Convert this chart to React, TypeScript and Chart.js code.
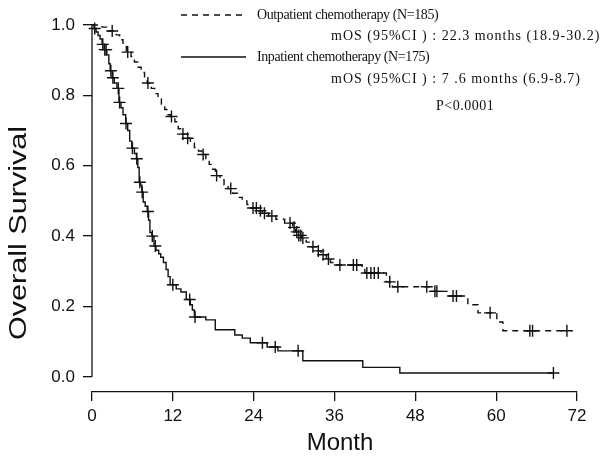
import React, { useEffect, useRef } from 'react';
import { Chart, registerables } from 'chart.js';

Chart.register(...registerables);

// Outpatient chemotherapy (dashed) – Kaplan–Meier step points
const outTimes = [0, 1.5, 2.2, 3.6, 4.1, 4.6, 5.1, 5.8, 6.3, 6.8, 7.3, 7.8, 8.2, 8.8, 9.3, 9.8, 10.3, 10.8, 11.3, 11.7, 12.3, 12.8, 13.3, 14.0, 14.6, 15.2, 15.8, 16.3, 16.9, 17.4, 17.9, 18.3, 19.0, 19.6, 20.2, 20.9, 21.6, 22.3, 23.0, 23.6, 24.8, 25.3, 26.2, 27.3, 28.6, 29.8, 30.2, 30.6, 31.1, 31.8, 32.5, 33.3, 34.0, 34.8, 35.4, 36.0, 40.1, 40.5, 43.7, 44.6, 50.2, 52.7, 55.8, 57.3, 60.1, 61.0, 70.5];
const outSurv = [1.0, 0.994, 0.983, 0.972, 0.958, 0.943, 0.923, 0.91, 0.895, 0.88, 0.865, 0.85, 0.835, 0.82, 0.805, 0.79, 0.775, 0.76, 0.745, 0.74, 0.725, 0.705, 0.69, 0.678, 0.665, 0.652, 0.642, 0.632, 0.618, 0.604, 0.59, 0.572, 0.56, 0.546, 0.535, 0.522, 0.51, 0.5, 0.49, 0.48, 0.472, 0.465, 0.457, 0.448, 0.437, 0.425, 0.412, 0.402, 0.395, 0.383, 0.37, 0.358, 0.347, 0.335, 0.325, 0.318, 0.305, 0.295, 0.27, 0.256, 0.243, 0.23, 0.205, 0.182, 0.156, 0.131, 0.131];
const outCensorTimes = [3.0, 5.3, 8.3, 11.8, 13.5, 14.2, 16.5, 18.5, 20.6, 23.9, 24.4, 25.0, 25.6, 26.7, 29.4, 30.0, 30.4, 30.7, 31.0, 31.3, 32.8, 33.6, 34.3, 35.1, 36.8, 38.8, 39.3, 40.8, 41.4, 41.9, 42.5, 44.2, 45.4, 49.7, 50.9, 51.2, 53.6, 54.1, 59.1, 65.0, 65.4, 70.5];
const outCensorSurv = [0.983, 0.923, 0.835, 0.74, 0.69, 0.678, 0.632, 0.572, 0.535, 0.48, 0.48, 0.472, 0.465, 0.457, 0.437, 0.425, 0.412, 0.402, 0.402, 0.395, 0.37, 0.358, 0.347, 0.335, 0.318, 0.318, 0.318, 0.295, 0.295, 0.295, 0.295, 0.27, 0.256, 0.256, 0.243, 0.243, 0.23, 0.23, 0.182, 0.131, 0.131, 0.131];

// Inpatient chemotherapy (solid)
const inTimes = [0, 0.3, 0.6, 0.9, 1.2, 1.5, 1.8, 2.2, 2.5, 2.7, 3.0, 3.3, 3.7, 4.0, 4.3, 4.6, 5.0, 5.3, 5.6, 5.9, 6.3, 6.6, 6.8, 7.0, 7.2, 7.4, 7.6, 7.9, 8.2, 8.4, 8.6, 8.9, 9.2, 9.5, 9.9, 10.2, 10.6, 11.0, 11.3, 11.6, 12.5, 13.2, 14.0, 14.6, 14.9, 15.2, 16.9, 18.3, 21.2, 22.3, 23.5, 26.0, 27.6, 31.3, 40.2, 45.7, 68.5];
const inSurv = [1.0, 0.99, 0.98, 0.97, 0.96, 0.945, 0.93, 0.915, 0.89, 0.87, 0.85, 0.835, 0.82, 0.78, 0.765, 0.745, 0.72, 0.70, 0.67, 0.65, 0.635, 0.62, 0.595, 0.553, 0.545, 0.525, 0.497, 0.485, 0.47, 0.445, 0.41, 0.40, 0.372, 0.36, 0.35, 0.34, 0.325, 0.305, 0.285, 0.262, 0.25, 0.241, 0.22, 0.205, 0.19, 0.17, 0.162, 0.134, 0.119, 0.11, 0.097, 0.085, 0.074, 0.046, 0.027, 0.011, 0.011];
const inCensorTimes = [0.4, 1.6, 1.9, 2.1, 2.8, 3.1, 3.9, 4.1, 5.05, 6.0, 6.65, 7.1, 7.45, 8.3, 8.95, 9.4, 12.0, 14.5, 15.3, 25.3, 27.2, 30.6, 68.5];
const inCensorSurv = [0.99, 0.945, 0.93, 0.93, 0.87, 0.85, 0.82, 0.78, 0.72, 0.65, 0.62, 0.553, 0.525, 0.47, 0.40, 0.372, 0.262, 0.22, 0.17, 0.097, 0.085, 0.074, 0.011];

const xTicks = [0, 12, 24, 36, 48, 60, 72];
const yTicks = [0, 0.2, 0.4, 0.6, 0.8, 1.0];

const xTitle = 'Month';
const yTitle = 'Overall Survival';
const legendOut = 'Outpatient chemotherapy (N=185)';
const legendOutMos = 'mOS (95%CI ) : 22.3 months (18.9-30.2)';
const legendIn = 'Inpatient chemotherapy (N=175)';
const legendInMos = 'mOS (95%CI ) : 7 .6 months (6.9-8.7)';
const pValueText = 'P<0.0001';

const INK = '#111111';
const SANS = '"Liberation Sans", Arial, sans-serif';
const SERIF = '"Liberation Serif", "Times New Roman", serif';

const toPoints = (xs: number[], ys: number[]) => xs.map((x, i) => ({ x, y: ys[i] }));

const decorPlugin = {
  id: 'kmDecor',
  afterDraw(chart: any) {
    const { ctx } = chart;
    const yScale = chart.scales.y;
    const left = chart.chartArea.left;
    ctx.save();
    // detached y axis line from 0 to 1
    ctx.strokeStyle = INK;
    ctx.lineWidth = 1.3;
    ctx.beginPath();
    ctx.moveTo(left, yScale.getPixelForValue(0));
    ctx.lineTo(left, yScale.getPixelForValue(1));
    ctx.stroke();

    // axis titles
    ctx.fillStyle = INK;
    ctx.textAlign = 'center';
    ctx.textBaseline = 'middle';
    ctx.font = `24px ${SANS}`;
    ctx.fillText(xTitle, 340, 443);
    ctx.save();
    ctx.translate(20, 233);
    ctx.rotate(-Math.PI / 2);
    ctx.scale(1.33, 1);
    ctx.font = `23px ${SANS}`;
    ctx.fillText(yTitle, 0, 0);
    ctx.restore();

    // legend samples
    ctx.lineWidth = 1.3;
    ctx.setLineDash([6, 5]);
    ctx.beginPath();
    ctx.moveTo(181, 15);
    ctx.lineTo(246, 15);
    ctx.stroke();
    ctx.setLineDash([]);
    ctx.beginPath();
    ctx.moveTo(181, 57);
    ctx.lineTo(246, 57);
    ctx.stroke();

    ctx.textAlign = 'left';
    ctx.font = `14px ${SERIF}`;
    (ctx as any).letterSpacing = '-0.4px';
    ctx.fillText(legendOut, 257, 15);
    ctx.fillText(legendIn, 257, 57);
    (ctx as any).letterSpacing = '1px';
    ctx.fillText(legendOutMos, 331, 36);
    ctx.fillText(legendInMos, 331, 79);
    (ctx as any).letterSpacing = '0.5px';
    ctx.fillText(pValueText, 436, 106);
    (ctx as any).letterSpacing = '0px';
    ctx.restore();
  },
};

export default function App() {
  const canvasRef = useRef<HTMLCanvasElement | null>(null);

  useEffect(() => {
    const canvas = canvasRef.current;
    if (!canvas) return;
    const tickFont = { family: SANS, size: 17 };
    const chart = new Chart(canvas, {
      type: 'line',
      data: {
        datasets: [
          {
            label: 'Outpatient chemotherapy',
            data: toPoints(outTimes, outSurv),
            stepped: 'before',
            borderColor: INK,
            borderWidth: 1.4,
            borderDash: [6, 5],
            pointRadius: 0,
            fill: false,
            clip: false,
          },
          {
            label: 'Outpatient censored',
            type: 'scatter',
            data: toPoints(outCensorTimes, outCensorSurv),
            pointStyle: 'cross',
            pointRadius: 6,
            borderColor: INK,
            borderWidth: 1.4,
            showLine: false,
            clip: false,
          },
          {
            label: 'Inpatient chemotherapy',
            data: toPoints(inTimes, inSurv),
            stepped: 'before',
            borderColor: INK,
            borderWidth: 1.4,
            pointRadius: 0,
            fill: false,
            clip: false,
          },
          {
            label: 'Inpatient censored',
            type: 'scatter',
            data: toPoints(inCensorTimes, inCensorSurv),
            pointStyle: 'cross',
            pointRadius: 6,
            borderColor: INK,
            borderWidth: 1.4,
            showLine: false,
            clip: false,
          },
        ] as any,
      },
      options: {
        responsive: false,
        animation: false,
        devicePixelRatio: 1,
        layout: { padding: { top: 25, right: 26, left: 0, bottom: 0 } },
        plugins: { legend: { display: false }, tooltip: { enabled: false } },
        scales: {
          x: {
            type: 'linear',
            min: 0,
            max: 72,
            afterBuildTicks: (s: any) => {
              s.ticks = xTicks.map((v) => ({ value: v }));
            },
            afterFit: (s: any) => {
              s.height = 65;
            },
            ticks: { font: tickFont, color: INK, padding: 5, maxRotation: 0, autoSkip: false },
            grid: { display: true, drawOnChartArea: false, drawTicks: true, tickLength: 9, color: INK, lineWidth: 1.3 },
            border: { display: true, color: INK, width: 1.3 },
            title: { display: false },
          },
          y: {
            type: 'linear',
            min: -0.043,
            max: 1.0,
            afterBuildTicks: (s: any) => {
              s.ticks = yTicks.map((v) => ({ value: v }));
            },
            afterFit: (s: any) => {
              s.width = 92;
            },
            ticks: {
              font: tickFont,
              color: INK,
              padding: 8,
              autoSkip: false,
              callback: (v: any) => Number(v).toFixed(1),
            },
            grid: { display: true, drawOnChartArea: false, drawTicks: true, tickLength: 9, color: INK, lineWidth: 1.3 },
            border: { display: false },
            title: { display: false },
          },
        },
      } as any,
      plugins: [decorPlugin],
    });
    return () => chart.destroy();
  }, []);

  return (
    <div style={{ position: 'absolute', left: 0, top: 0, width: 603, height: 457, background: '#fff' }}>
      <canvas ref={canvasRef} width={603} height={457} style={{ display: 'block' }} />
    </div>
  );
}
